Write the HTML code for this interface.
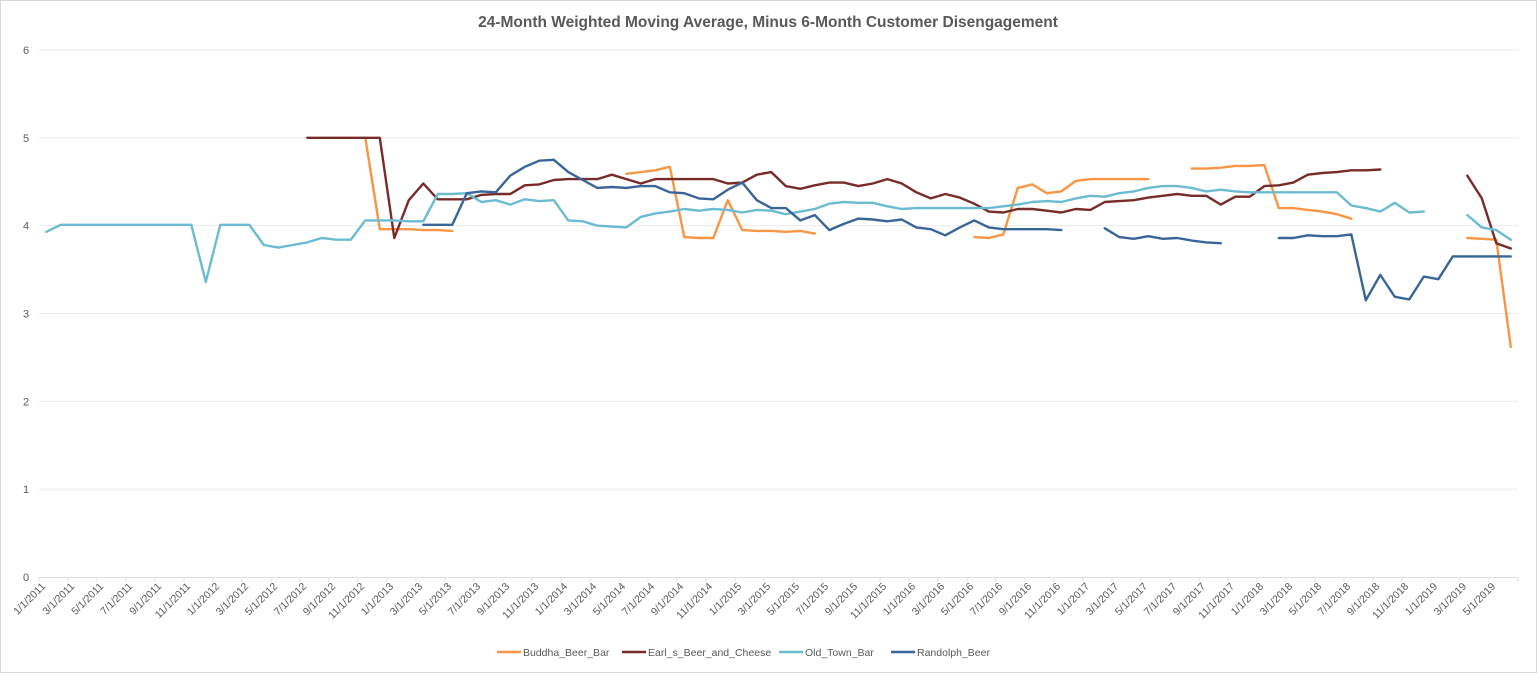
<!DOCTYPE html>
<html><head><meta charset="utf-8">
<style>
body{margin:0;background:#fff;}
svg{display:block;font-family:"Liberation Sans",Calibri,sans-serif;}
</style></head>
<body>
<svg id="chart" width="1537" height="673" viewBox="0 0 1537 673">
<rect x="0.5" y="0.5" width="1536" height="672" fill="#fff" stroke="#d9d9d9"/>
<text x="768" y="27" text-anchor="middle" font-size="15.5" font-weight="bold" fill="#595959">24-Month Weighted Moving  Average, Minus 6-Month Customer Disengagement</text>
<g id="grid"></g>
<g id="yaxis"></g>
<g id="xaxis"></g>
<g id="series"></g>
<g id="legend"></g>
</svg>
<script>
const yTicks = [0,1,2,3,4,5,6];
const seriesNames = ["Buddha_Beer_Bar","Earl_s_Beer_and_Cheese","Old_Town_Bar","Randolph_Beer"];
const N = null;
const buddha = [N,N,N,N,N,N,N,N,N,N,N,N,N,N,N,N,N,N,N,N,N,N,5.0,3.96,3.96,3.96,3.95,3.95,3.94,N,
N,N,N,N,N,N,N,N,N,N,4.59,4.61,4.63,4.67,3.87,3.86,3.86,4.29,3.95,3.94,3.94,3.93,3.94,3.91,N,N,N,N,N,N,
N,N,N,N,3.87,3.86,3.9,4.43,4.47,4.37,4.39,4.51,4.53,4.53,4.53,4.53,4.53,N,N,4.65,4.65,4.66,4.68,4.68,4.69,4.2,
4.2,4.18,4.16,4.13,4.08,N,N,N,N,N,N,N,3.86,3.85,3.84,2.62];
const earls = [N,N,N,N,N,N,N,N,N,N,N,N,N,N,N,N,N,N,5,5,5,5,5,5,3.86,4.29,4.48,4.3,4.3,4.3,
4.35,4.36,4.36,4.46,4.47,4.52,4.53,4.53,4.53,4.58,4.53,4.48,4.53,4.53,4.53,4.53,4.53,4.48,4.49,4.58,4.61,4.45,4.42,4.46,4.49,4.49,4.45,4.48,4.53,4.48,
4.38,4.31,4.36,4.32,4.25,4.16,4.15,4.19,4.19,4.17,4.15,4.19,4.18,4.27,4.28,4.29,4.32,4.34,4.36,4.34,4.34,4.24,4.33,4.33,4.45,4.46,4.49,4.58,4.6,4.61,
4.63,4.63,4.64,N,N,N,N,N,4.57,4.31,3.8,3.74];
const oldTown = [3.93,4.01,4.01,4.01,4.01,4.01,4.01,4.01,4.01,4.01,4.01,3.36,4.01,4.01,4.01,3.78,3.75,3.78,3.81,3.86,3.84,3.84,4.06,4.06,4.06,4.05,4.05,4.36,4.36,4.37,
4.27,4.29,4.24,4.3,4.28,4.29,4.06,4.05,4.0,3.99,3.98,4.1,4.14,4.16,4.19,4.17,4.19,4.18,4.15,4.18,4.17,4.13,4.16,4.19,4.25,4.27,4.26,4.26,4.22,4.19,
4.2,4.2,4.2,4.2,4.2,4.2,4.22,4.24,4.27,4.28,4.27,4.31,4.34,4.33,4.37,4.39,4.43,4.45,4.45,4.43,4.39,4.41,4.39,4.38,4.38,4.38,4.38,4.38,4.38,4.38,
4.23,4.2,4.16,4.26,4.15,4.16,N,N,4.12,3.98,3.95,3.84];
const randolph = [N,N,N,N,N,N,N,N,N,N,N,N,N,N,N,N,N,N,N,N,N,N,N,N,N,N,4.01,4.01,4.01,4.37,
4.39,4.38,4.57,4.67,4.74,4.75,4.61,4.52,4.43,4.44,4.43,4.45,4.45,4.38,4.37,4.31,4.3,4.41,4.49,4.29,4.2,4.2,4.06,4.12,3.95,4.02,4.08,4.07,4.05,4.07,
3.98,3.96,3.89,3.98,4.06,3.98,3.96,3.96,3.96,3.96,3.95,N,N,3.97,3.87,3.85,3.88,3.85,3.86,3.83,3.81,3.8,N,N,N,3.86,3.86,3.89,3.88,3.88,
3.9,3.15,3.44,3.19,3.16,3.42,3.39,3.65,3.65,3.65,3.65,3.65];
const seriesData = [buddha, earls, oldTown, randolph];
const colors = ["#F79646","#772C2A","#6BBCD1","#3A6598"];
const lineNames = ["buddha-beer-bar-line","earls-beer-and-cheese-line","old-town-bar-line","randolph-beer-line"];

const NS="http://www.w3.org/2000/svg";
const pLeft=39, pRight=1518, pTop=50, pBottom=577, yMaxVal=6;
const nCat = oldTown.length;
const band=(pRight-pLeft)/nCat;
function xs(i){return pLeft+band*(i+0.5);}
function ys(v){return pBottom-(v/yMaxVal)*(pBottom-pTop);}
function mk(tag,attrs,parent){const e=document.createElementNS(NS,tag);for(const k in attrs)e.setAttribute(k,attrs[k]);parent.appendChild(e);return e;}
function dateLabel(i){const m=i%12+1, y=2011+Math.floor(i/12);return m+"/1/"+y;}

const grid=document.getElementById('grid'), yax=document.getElementById('yaxis'), xax=document.getElementById('xaxis');
yTicks.forEach(t=>{
  if(t>0){const g=mk('line',{x1:pLeft,x2:pRight,y1:ys(t),y2:ys(t),stroke:'#ebebeb','stroke-width':1},grid);
  
  }
  const tx=mk('text',{x:26,y:ys(t)+4,'text-anchor':'middle','font-size':11,fill:'#595959'},yax);
  tx.textContent=t;
  
  
});
const ax=mk('line',{x1:pLeft,x2:pRight,y1:pBottom+0.5,y2:pBottom+0.5,stroke:'#e0e0e0','stroke-width':1},xax);


for(let i=0;i<=nCat;i+=2){
  const x=pLeft+band*i;
  const tk=mk('line',{x1:x,x2:x,y1:pBottom,y2:pBottom+5,stroke:'#e0e0e0'},xax);
  
  
}
for(let i=0;i<nCat;i+=2){
  const x=pLeft+band*i+7, y=pBottom+10;
  const tx=mk('text',{x:x,y:y,'text-anchor':'end','font-size':10.5,fill:'#595959',transform:`rotate(-45 ${x} ${y})`},xax);
  tx.textContent=dateLabel(i);
  
  
}
const sg=document.getElementById('series');
seriesData.forEach((arr,s)=>{
  let d='', pen=false;
  arr.forEach((v,i)=>{
    if(v===null){pen=false;return;}
    d+=(pen?'L':'M')+xs(i).toFixed(1)+' '+ys(v).toFixed(1)+' ';pen=true;
  });
  const p=mk('path',{d:d,fill:'none',stroke:colors[s],'stroke-width':2.4,'stroke-linejoin':'round','stroke-linecap':'round'},sg);
  
  
});
const lg=document.getElementById('legend');
const lx=[497,622,779,891];
seriesNames.forEach((n,s)=>{
  const l=mk('line',{x1:lx[s],x2:lx[s]+24,y1:652,y2:652,stroke:colors[s],'stroke-width':2.6},lg);
  
  
  const t=mk('text',{x:lx[s]+26,y:656,'font-size':10.5,fill:'#595959'},lg);
  t.textContent=n;
  
  
});
</script>
</body></html>
